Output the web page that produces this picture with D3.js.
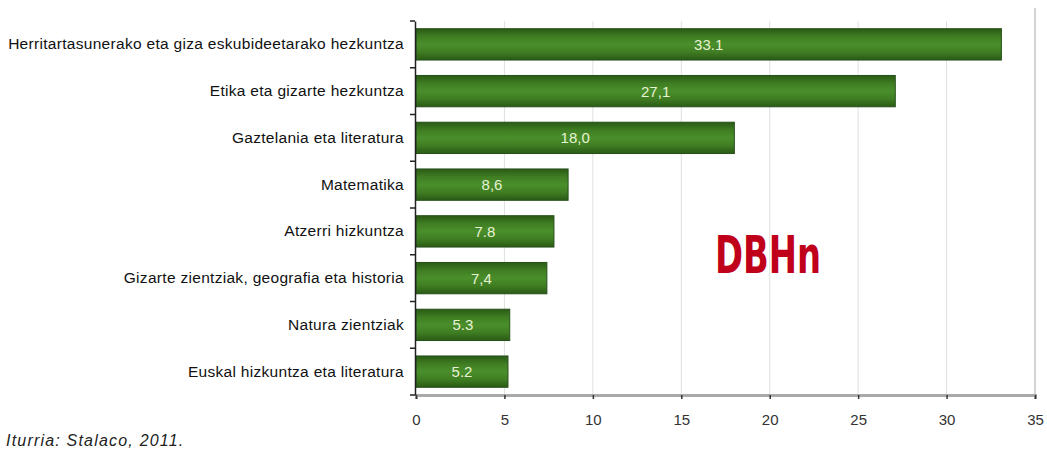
<!DOCTYPE html>
<html><head><meta charset="utf-8">
<script src="https://cdn.jsdelivr.net/npm/d3@7"></script>
<style>
html,body{margin:0;padding:0;background:#fff;}
svg{display:block;}
</style></head>
<body>
<svg id="chart" width="1047" height="453"></svg>
<script>
const categories = [
  "Herritartasunerako eta giza eskubideetarako hezkuntza",
  "Etika eta gizarte hezkuntza",
  "Gaztelania eta literatura",
  "Matematika",
  "Atzerri hizkuntza",
  "Gizarte zientziak, geografia eta historia",
  "Natura zientziak",
  "Euskal hizkuntza eta literatura"
];
const values = [33.1, 27.1, 18.0, 8.6, 7.8, 7.4, 5.3, 5.2];
const valueLabels = ["33.1", "27,1", "18,0", "8,6", "7.8", "7,4", "5.3", "5.2"];
const xTicks = [0, 5, 10, 15, 20, 25, 30, 35];
const stamp = "DBHn";
const source = "Iturria: Stalaco, 2011.";

const svg = d3.select("#chart");
const mLeft = 416, mRight = 1035, mTop = 21, mBottom = 395;

const x = d3.scaleLinear().domain([0, 35]).range([mLeft, mRight]);
const y = d3.scaleBand().domain(categories).range([mTop, mBottom])
  .paddingInner(0.33).paddingOuter(0.165);

const defs = svg.append("defs");
const grad = defs.append("linearGradient").attr("id", "barGrad")
  .attr("x1", 0).attr("x2", 0).attr("y1", 0).attr("y2", 1);
grad.append("stop").attr("offset", "0%").attr("stop-color", "#2a5a15");
grad.append("stop").attr("offset", "25%").attr("stop-color", "#3f7d22");
grad.append("stop").attr("offset", "50%").attr("stop-color", "#4a8f2c");
grad.append("stop").attr("offset", "75%").attr("stop-color", "#3f7d22");
grad.append("stop").attr("offset", "100%").attr("stop-color", "#2a5a15");

// gridlines
svg.append("g").selectAll("line").data(xTicks.slice(1)).join("line")
  .attr("x1", d => x(d)).attr("x2", d => x(d))
  .attr("y1", d => d === 35 ? 8 : mTop).attr("y2", mBottom)
  .attr("stroke", d => d === 35 ? "#c4c4c4" : "#e0e0e0")
  .attr("stroke-width", d => d === 35 ? 1.5 : 1);

// stamp text
svg.append("text").attr("x", 715).attr("y", 273)
  .attr("font-family", "'Liberation Sans Narrow','DejaVu Sans Condensed',sans-serif")
  .attr("font-weight", "bold").attr("font-size", 52)
  .attr("textLength", 106).attr("lengthAdjust", "spacingAndGlyphs")
  .attr("fill", "#c0001b").text(stamp);

// bars
svg.append("g").selectAll("rect").data(values).join("rect")
  .attr("x", x(0))
  .attr("y", (d, i) => y(categories[i]))
  .attr("width", d => x(d) - x(0))
  .attr("height", y.bandwidth())
  .attr("fill", "url(#barGrad)")
  .attr("stroke", "#26501a").attr("stroke-width", 1);

// value labels
svg.append("g").selectAll("text").data(values).join("text")
  .attr("x", d => (x(0) + x(d)) / 2)
  .attr("y", (d, i) => y(categories[i]) + y.bandwidth() / 2)
  .attr("dy", "0.36em")
  .attr("text-anchor", "middle")
  .attr("font-family", "'Liberation Sans',Arial,sans-serif")
  .attr("font-size", 15)
  .attr("fill", "#e6f3d2")
  .text((d, i) => valueLabels[i]);

// bottom axis
const xAxis = d3.axisBottom(x).tickValues(xTicks).tickSize(4).tickPadding(15)
  .tickFormat(d3.format("d"));
const gx = svg.append("g").attr("transform", `translate(0,${mBottom})`).call(xAxis);
gx.select(".domain").attr("stroke", "#a9a9a9").attr("stroke-width", 3);
gx.selectAll(".tick line").attr("stroke", "#333").attr("stroke-width", 1.5);
gx.selectAll(".tick text").attr("font-family", "'Liberation Sans',Arial,sans-serif")
  .attr("font-size", 15).attr("fill", "#333");

// left axis
const yAxis = d3.axisLeft(y).tickSize(0).tickPadding(11);
const gy = svg.append("g").attr("transform", `translate(${mLeft - 1},0)`).call(yAxis);
gy.select(".domain").attr("stroke", "#222").attr("stroke-width", 1.5);
gy.selectAll(".tick text").attr("font-family", "'Liberation Sans',Arial,sans-serif")
  .attr("font-size", 15.5).attr("fill", "#111").attr("letter-spacing", "0.3px");
// boundary ticks
const boundaries = categories.map(c => y(c) - y.step() * y.paddingInner() / 2);
boundaries.push(mBottom);
gy.append("g").selectAll("line").data(boundaries).join("line")
  .attr("x1", -5).attr("x2", 0)
  .attr("y1", d => d).attr("y2", d => d)
  .attr("stroke", "#222").attr("stroke-width", 1.5);

// source
svg.append("text").attr("x", 6).attr("y", 446)
  .attr("font-family", "'Liberation Sans',Arial,sans-serif")
  .attr("font-style", "italic").attr("font-size", 16).attr("fill", "#222")
  .attr("letter-spacing", "1.2px")
  .text(source);
</script>
</body></html>
